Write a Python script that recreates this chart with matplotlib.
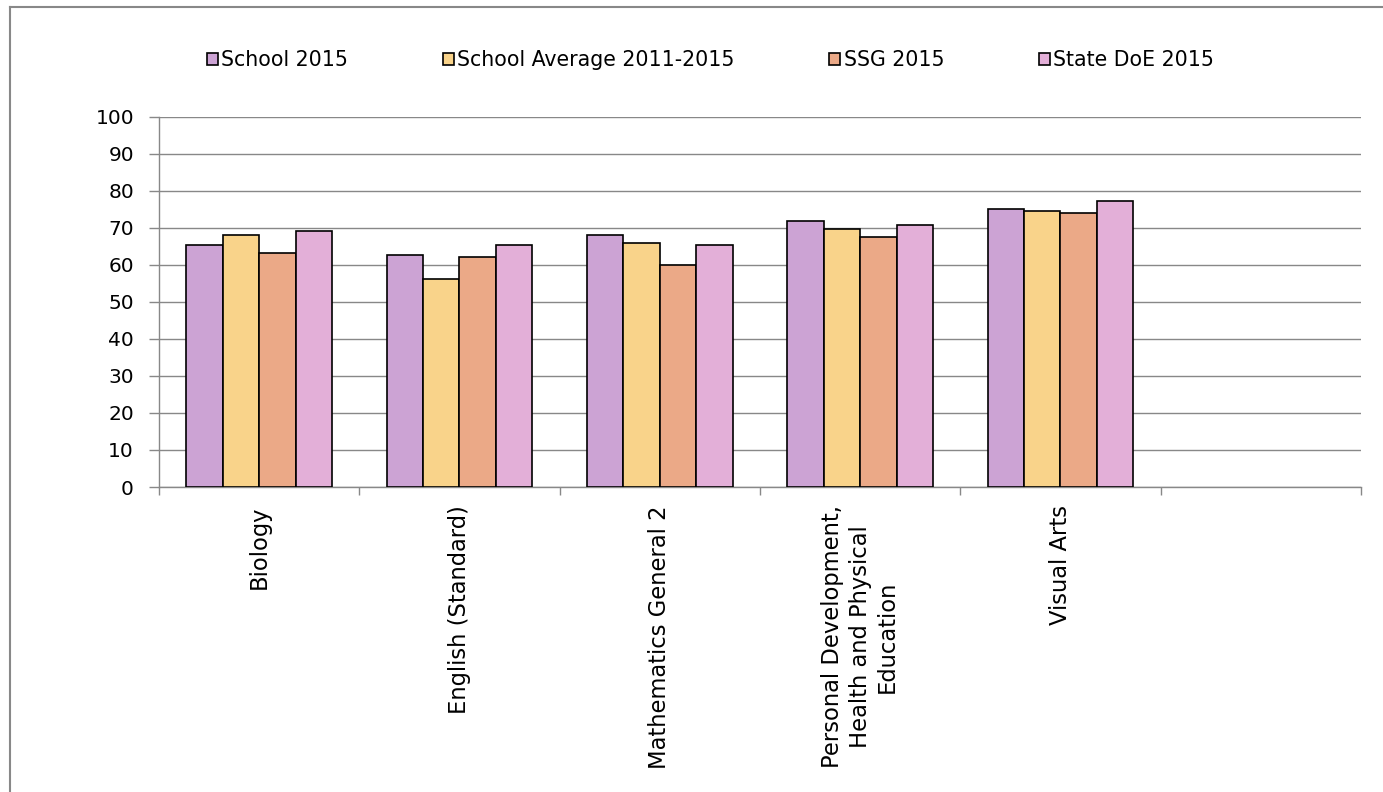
import numpy as np
import matplotlib
matplotlib.use("Agg")
import matplotlib.pyplot as plt
from matplotlib.lines import Line2D

plt.rcParams['font.family'] = ['DejaVu Sans']

subjects = ["Biology", "English (Standard)", "Mathematics General 2",
            "Personal Development,\nHealth and Physical\nEducation", "Visual Arts"]
n_slots = 6  # the chart leaves one empty category at the right

series_names = ["School 2015", "School Average 2011-2015", "SSG 2015", "State DoE 2015"]
school_2015 = [65.4, 62.7, 68.1, 71.8, 75.1]
school_avg = [68.1, 56.3, 66.0, 69.7, 74.5]
ssg_2015 = [63.3, 62.1, 60.0, 67.6, 74.1]
state_doe_2015 = [69.2, 65.4, 65.4, 70.8, 77.2]
series_values = [school_2015, school_avg, ssg_2015, state_doe_2015]
colors = ["#CCA3D4", "#F9D38A", "#EBA987", "#E3AFD8"]

grey = "#888888"

fig = plt.figure(figsize=(13.83, 7.92), dpi=100)
ax = fig.add_axes([159/1383, 1-487/792, (1361-159)/1383, (487-116.7)/792])

x = np.arange(len(subjects))
w = 0.182
for i, (name, vals, c) in enumerate(zip(series_names, series_values, colors)):
    ax.bar(x + (i - 1.5) * w, vals, w, color=c, edgecolor="black",
           linewidth=1.2, label=name, zorder=3)

ax.set_xlim(-0.5, n_slots - 0.5)
ax.set_ylim(0, 100)
ax.set_yticks(range(0, 101, 10))
ax.yaxis.grid(True, color=grey, linewidth=1.0, zorder=0)
ax.set_axisbelow(True)

for s in ["top", "right"]:
    ax.spines[s].set_visible(False)
for s in ["left", "bottom"]:
    ax.spines[s].set_color(grey)
    ax.spines[s].set_linewidth(1.0)

ax.set_xticks(x)
ax.set_xticklabels(subjects, rotation=90, ha="center", va="top",
                   multialignment="center", linespacing=1.25, fontsize=16.3)
ax.tick_params(axis="x", which="major", length=0, pad=13)
ax.set_xticks(np.arange(-0.5, n_slots, 1.0), minor=True)
ax.tick_params(axis="x", which="minor", length=6, width=1.0, color=grey)
ax.tick_params(axis="y", length=7, width=1.0, color=grey, pad=11, labelsize=14.5)

fig.legend(loc="center left", bbox_to_anchor=(207/1383, 1-60/792), ncol=4,
           frameon=False, fontsize=14.8, handlelength=0.55, handleheight=0.55,
           handletextpad=0.15, columnspacing=4.6, borderpad=0, borderaxespad=0)

# outer chart border (only left and top edges are visible in the crop)
fig.add_artist(Line2D([10/1383, 10/1383], [0, 1-7/792], color=grey, linewidth=1.5))
fig.add_artist(Line2D([10/1383, 1], [1-7/792, 1-7/792], color=grey, linewidth=1.5))

fig.savefig("out.png", dpi=100)
